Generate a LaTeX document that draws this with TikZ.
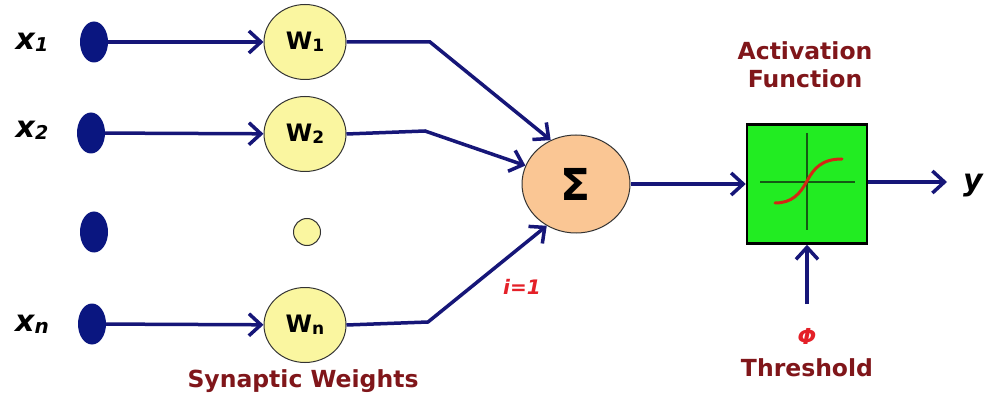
\documentclass[tikz,border=0pt]{standalone}
\usepackage{fontspec}
\setmainfont{DejaVu Sans}
\usetikzlibrary{shapes.geometric,arrows.meta}
\definecolor{navy}{RGB}{22,22,120}
\definecolor{dotblue}{RGB}{10,22,128}
\definecolor{wyellow}{RGB}{250,246,160}
\definecolor{peach}{RGB}{250,198,148}
\definecolor{boxgreen}{RGB}{34,236,34}
\definecolor{darkred}{RGB}{128,22,26}
\definecolor{brightred}{RGB}{228,32,40}
\definecolor{axisgreen}{RGB}{20,90,20}
\definecolor{curvered}{RGB}{210,40,20}
\newcommand{\lowsub}[2]{\raisebox{-2pt}{\fontsize{#1}{#1}\selectfont #2}}
\tikzset{
  conn/.style={draw=navy,line width=3.5pt,-{Straight Barb[length=12pt,width=22pt,line width=3.5pt]}},
  indot/.style={ellipse,fill=dotblue,minimum width=28pt,minimum height=41pt,inner sep=0pt},
  wnode/.style={ellipse,draw=black!80,line width=1pt,fill=wyellow,minimum width=82pt,minimum height=75pt,inner sep=0pt,font=\fontsize{24}{28}\selectfont\bfseries},
  inlabel/.style={font=\fontsize{30}{32}\selectfont\bfseries\itshape},
  caption/.style={text=darkred,font=\fontsize{23.5}{28}\selectfont\bfseries,align=center},
  redlabel/.style={text=brightred,font=\fontsize{20}{24}\selectfont\bfseries\itshape},
}
\begin{document}
\begin{tikzpicture}[x=1pt,y=-1pt]
\useasboundingbox[fill=white] (0,0) rectangle (992,403);
% input labels
\node[inlabel] (lx1) at (32,42) {x\lowsub{19}{1}};
\node[inlabel] (lx2) at (32,130) {x\lowsub{19}{2}};
\node[inlabel] (lxn) at (32,324) {x\lowsub{20}{\itshape n}};
% input dots
\node[indot] (d1) at (94,42) {};
\node[indot] (d2) at (91,133) {};
\node[indot] (d3) at (94,232) {};
\node[indot] (dn) at (92,324) {};
% weights
\node[wnode] (w1) at (305,42) {W\lowsub{17}{1}};
\node[wnode] (w2) at (305,134) {W\lowsub{17}{2}};
\node[ellipse,draw=black!80,line width=1pt,fill=wyellow,minimum width=27pt,minimum height=27pt,inner sep=0pt] (wd) at (307,232) {};
\node[wnode] (wn) at (305,325) {W\lowsub{17}{n}};
\node[caption] (syn) at (303,381) {Synaptic Weights};
% summation
\node[ellipse,draw=black!80,line width=1pt,fill=peach,minimum width=108pt,minimum height=98pt,inner sep=0pt,font=\fontsize{44}{48}\selectfont\bfseries] (sigma) at (576,184) {Σ};
\node[redlabel] (ilab) at (522,287) {i=1};
% activation box
\node[draw=black,line width=2.5pt,fill=boxgreen,minimum width=120pt,minimum height=119pt,inner sep=0pt] (act) at (807,184) {};
\node[caption] (actlab) at (805,65) {Activation\\Function};
\coordinate (axt) at (807,133);
\coordinate (axb) at (807,230);
\coordinate (axl) at (760,182);
\coordinate (axr) at (855,182);
\draw[axisgreen,line width=1.2pt] (axt) -- (axb);
\draw[axisgreen,line width=1.2pt] (axl) -- (axr);
\coordinate (cs) at (775,203);
\coordinate (cm) at (807,181);
\coordinate (ce) at (842,159);
\draw[curvered,line width=3pt,line cap=round] (cs) .. controls (792,203) and (800,194) .. (cm) .. controls (814,168) and (822,159) .. (ce);
% threshold
\node[redlabel,font=\fontsize{22}{26}\selectfont\bfseries\itshape] (phi) at (807,336) {Φ};
\node[caption] (thr) at (807,368) {Threshold};
\coordinate (thrs) at (807,304);
% output
\node[inlabel] (ylab) at (973,186) {y};
\coordinate (yend) at (947,182);
% connectors
\draw[conn] (d1) -- (w1);
\draw[conn] (d2) -- (w2);
\draw[conn] (dn) -- (wn);
\coordinate (b1) at (430,42);
\coordinate (b2) at (425,131);
\coordinate (bn) at (428,322);
\draw[conn] (w1.east) -- (b1) -- (sigma.120);
\draw[conn] (w2.east) -- (b2) -- (sigma.160);
\draw[conn] (wn.east) -- (bn) -- (sigma.235);
\draw[conn] (sigma) -- (act);
\draw[conn] (act.east |- axr) -- (yend);
\draw[conn] (thrs) -- (act.south);
\end{tikzpicture}
\end{document}
